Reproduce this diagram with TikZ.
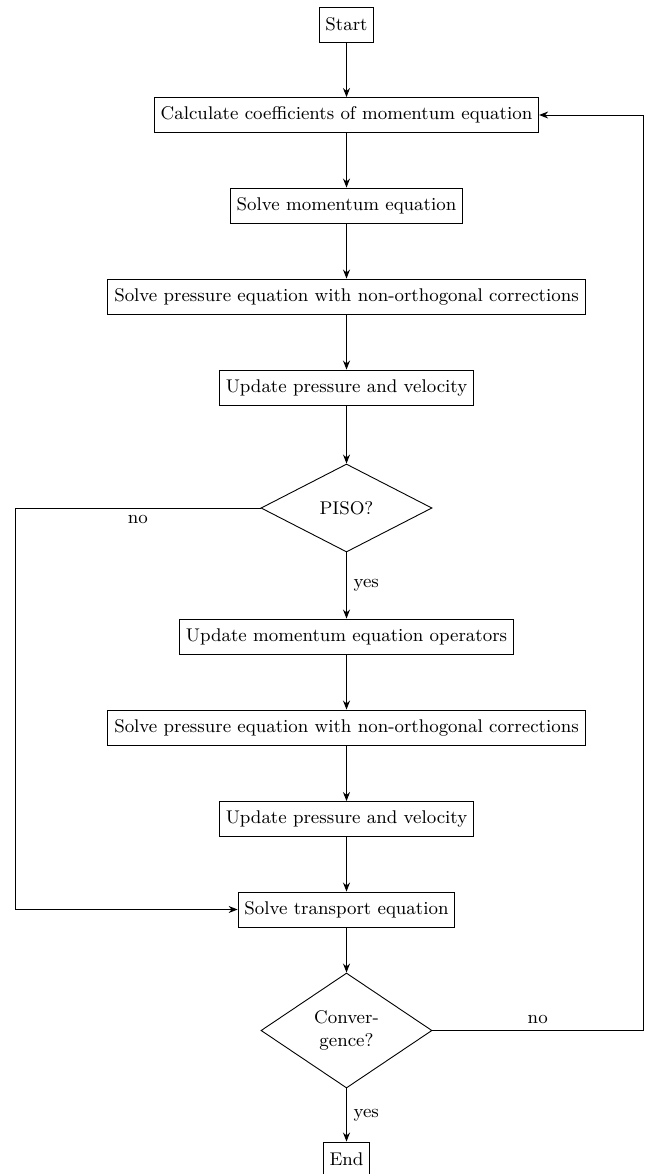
\documentclass[tikz,border=0pt]{standalone}
\usepackage{fontspec}
\usepackage{amsmath}
\usepackage{tikz}
\usepackage{xcolor}
\usetikzlibrary{shapes.geometric,arrows.meta}

\tikzset{
  stepbox/.style={draw,line width=0.45pt,inner xsep=3.2pt,inner ysep=0pt,minimum height=17.5pt,font=\fontsize{9.2}{11.5}\selectfont},
  decide/.style={draw,diamond,line width=0.45pt,inner sep=0pt,minimum width=85.5pt,align=center,font=\fontsize{9.2}{11.5}\selectfont},
  flow/.style={line width=0.45pt,-{Stealth[length=4.5pt,width=3.5pt]}},
  lbl/.style={font=\fontsize{9.2}{11.5}\selectfont}
}

\begin{document}
\begin{tikzpicture}[x=0.5pt,y=0.5pt,yscale=-1,xscale=1]
\useasboundingbox (0,0) rectangle (649,1174); %set diagram at 649 x 1174

% Text Node
\node [stepbox] (start) at (346.5,24.5) {Start};
% Text Node
\node [stepbox] (calc) at (346.5,115) {Calculate coefficients of momentum equation};
% Text Node
\node [stepbox] (mom) at (346.5,205.5) {Solve momentum equation};
% Text Node
\node [stepbox] (pres1) at (346.5,296.5) {Solve pressure equation with non-orthogonal corrections};
% Text Node
\node [stepbox] (upd1) at (346.5,387.5) {Update pressure and velocity};
% Shape: Diamond
\node [decide,minimum height=44pt] (piso) at (346.5,508) {PISO?};
% Text Node
\node [stepbox] (ops) at (346.5,636.5) {Update momentum equation operators};
% Text Node
\node [stepbox] (pres2) at (346.5,727.5) {Solve pressure equation with non-orthogonal corrections};
% Text Node
\node [stepbox] (upd2) at (346.5,819) {Update pressure and velocity};
% Text Node
\node [stepbox] (trans) at (346.5,909.5) {Solve transport equation};
% Shape: Diamond
\node [decide,minimum height=57.5pt] (conv) at (346.5,1030.5) {Conver-\\gence?};
% Text Node
\node [stepbox] (finish) at (346.5,1159.5) {End};

% Corners of the two loops
\coordinate (lft) at (15,508);
\coordinate (rgt) at (643,115);

%Straight Lines
\draw [flow] (start) -- (calc);
\draw [flow] (calc) -- (mom);
\draw [flow] (mom) -- (pres1);
\draw [flow] (pres1) -- (upd1);
\draw [flow] (upd1) -- (piso);
\draw [flow] (piso) -- node [lbl,right] {yes} (ops);
\draw [flow] (ops) -- (pres2);
\draw [flow] (pres2) -- (upd2);
\draw [flow] (upd2) -- (trans);
\draw [flow] (trans) -- (conv);
\draw [flow] (conv) -- node [lbl,right] {yes} (finish);
%Loop back lines
\draw [flow] (piso.west) -- node [lbl,below] {no} (lft) |- (trans.west);
\draw [flow] (conv.east) -- node [lbl,above] {no} (conv.east -| rgt) -- (rgt) -- (calc.east);
\end{tikzpicture}
\end{document}
